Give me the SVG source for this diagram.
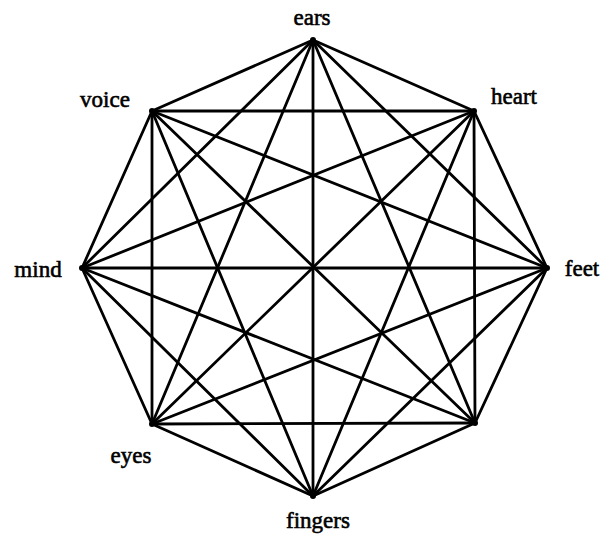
<svg xmlns="http://www.w3.org/2000/svg" width="600" height="535" viewBox="0 0 600 535">
<style>
.e{stroke:#000;stroke-width:2.8;stroke-linecap:round}
.l{font-family:"Liberation Serif","Times New Roman",serif;font-size:23px;fill:#000;stroke:#000;stroke-width:0.6;text-anchor:middle}
.v{fill:#000}
</style>
<rect width="600" height="535" fill="#fff"/>
<g id="connectors">
<line class="e" x1="313" y1="40" x2="474" y2="111"/>
<line class="e" x1="313" y1="40" x2="547" y2="268"/>
<line class="e" x1="313" y1="40" x2="475" y2="423"/>
<line class="e" x1="313" y1="40" x2="313" y2="496"/>
<line class="e" x1="313" y1="40" x2="152" y2="424"/>
<line class="e" x1="313" y1="40" x2="82" y2="268"/>
<line class="e" x1="313" y1="40" x2="152" y2="111"/>
<line class="e" x1="474" y1="111" x2="547" y2="268"/>
<line class="e" x1="474" y1="111" x2="475" y2="423"/>
<line class="e" x1="474" y1="111" x2="313" y2="496"/>
<line class="e" x1="474" y1="111" x2="152" y2="424"/>
<line class="e" x1="474" y1="111" x2="82" y2="268"/>
<line class="e" x1="474" y1="111" x2="152" y2="111"/>
<line class="e" x1="547" y1="268" x2="475" y2="423"/>
<line class="e" x1="547" y1="268" x2="313" y2="496"/>
<line class="e" x1="547" y1="268" x2="152" y2="424"/>
<line class="e" x1="547" y1="268" x2="82" y2="268"/>
<line class="e" x1="547" y1="268" x2="152" y2="111"/>
<line class="e" x1="475" y1="423" x2="313" y2="496"/>
<line class="e" x1="475" y1="423" x2="152" y2="424"/>
<line class="e" x1="475" y1="423" x2="82" y2="268"/>
<line class="e" x1="475" y1="423" x2="152" y2="111"/>
<line class="e" x1="313" y1="496" x2="152" y2="424"/>
<line class="e" x1="313" y1="496" x2="82" y2="268"/>
<line class="e" x1="313" y1="496" x2="152" y2="111"/>
<line class="e" x1="152" y1="424" x2="82" y2="268"/>
<line class="e" x1="152" y1="424" x2="152" y2="111"/>
<line class="e" x1="82" y1="268" x2="152" y2="111"/>
</g>
<g id="ears"><circle class="v" cx="313" cy="40" r="3"/><text class="l" x="312" y="25">ears</text></g>
<g id="heart"><circle class="v" cx="474" cy="111" r="3"/><text class="l" x="514" y="104">heart</text></g>
<g id="feet"><circle class="v" cx="547" cy="268" r="3"/><text class="l" x="582" y="276">feet</text></g>
<g id="bottom-right"><circle class="v" cx="475" cy="423" r="3"/></g>
<g id="fingers"><circle class="v" cx="313" cy="496" r="3"/><text class="l" x="318" y="528">fingers</text></g>
<g id="eyes"><circle class="v" cx="152" cy="424" r="3"/><text class="l" x="131" y="463">eyes</text></g>
<g id="mind"><circle class="v" cx="82" cy="268" r="3"/><text class="l" x="38" y="277">mind</text></g>
<g id="voice"><circle class="v" cx="152" cy="111" r="3"/><text class="l" x="105" y="107">voice</text></g>
</svg>
